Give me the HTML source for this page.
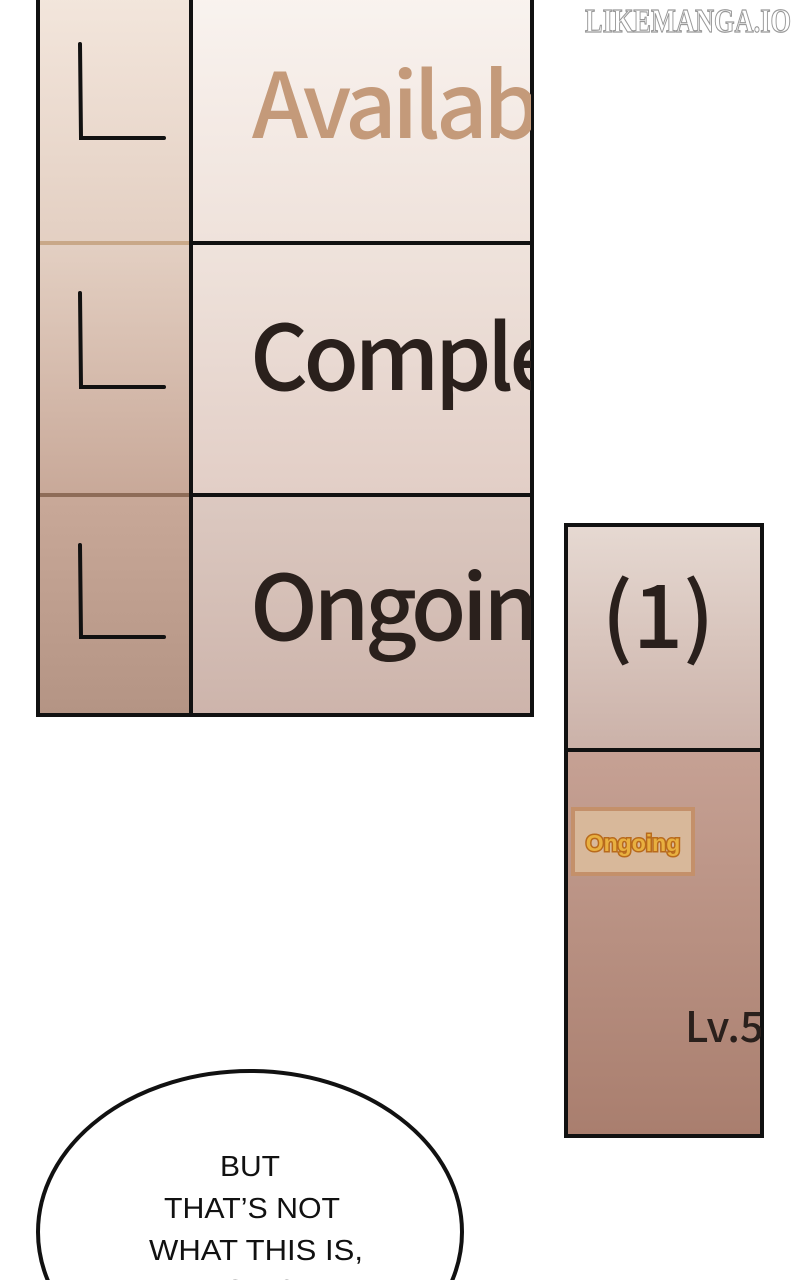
<!DOCTYPE html>
<html><head><meta charset="utf-8"><style>
html,body{margin:0;padding:0;background:#fff;width:800px;height:1280px;overflow:hidden}
svg{display:block}
</style></head><body>
<svg width="800" height="1280" viewBox="0 0 800 1280" xmlns="http://www.w3.org/2000/svg">
<defs>
<linearGradient id="lc" x1="0" y1="0" x2="0" y2="1">
<stop offset="0" stop-color="#f3e6dc"/><stop offset="0.35" stop-color="#e3cfc2"/><stop offset="0.7" stop-color="#c8a898"/><stop offset="1" stop-color="#b49484"/></linearGradient>
<linearGradient id="r1" x1="0" y1="0" x2="0" y2="1"><stop offset="0" stop-color="#f9f3ef"/><stop offset="1" stop-color="#efe2db"/></linearGradient>
<linearGradient id="r2" x1="0" y1="0" x2="0" y2="1"><stop offset="0" stop-color="#efe3dc"/><stop offset="1" stop-color="#e2cec6"/></linearGradient>
<linearGradient id="r3" x1="0" y1="0" x2="0" y2="1"><stop offset="0" stop-color="#dcc9c1"/><stop offset="1" stop-color="#cdb4ab"/></linearGradient>
<linearGradient id="p1" x1="0" y1="0" x2="0" y2="1"><stop offset="0" stop-color="#e6d9d2"/><stop offset="1" stop-color="#cbb1a8"/></linearGradient>
<linearGradient id="p2" x1="0" y1="0" x2="0" y2="1"><stop offset="0" stop-color="#c6a194"/><stop offset="1" stop-color="#a97e6e"/></linearGradient>
<clipPath id="cl"><rect x="193" y="0" width="338" height="715"/></clipPath>
<clipPath id="cr"><rect x="567" y="752" width="194" height="383"/></clipPath>
<clipPath id="cv"><rect x="0" y="0" width="800" height="1280"/></clipPath>
</defs>
<rect x="38" y="-5" width="153" height="720" fill="url(#lc)"/>
<rect x="191" y="-5" width="341" height="248" fill="url(#r1)"/>
<rect x="191" y="243" width="341" height="252" fill="url(#r2)"/>
<rect x="191" y="495" width="341" height="220" fill="url(#r3)"/>
<line x1="38" y1="243" x2="190" y2="243" stroke="#c9a888" stroke-width="4"/>
<line x1="38" y1="495" x2="190" y2="495" stroke="#8e6c58" stroke-width="4"/>
<line x1="191" y1="243" x2="532" y2="243" stroke="#111" stroke-width="4"/>
<line x1="191" y1="495" x2="532" y2="495" stroke="#111" stroke-width="4"/>
<line x1="191" y1="-5" x2="191" y2="715" stroke="#111" stroke-width="4"/>
<rect x="38" y="-10" width="494" height="725" fill="none" stroke="#111" stroke-width="4"/>
<g stroke="#111" stroke-width="4" fill="none" stroke-linecap="round">
<path d="M80 44 L81 138 L164 138"/><path d="M80 293 L81 387 L164 387"/><path d="M80 545 L81 637 L164 637"/>
</g>
<g clip-path="url(#cl)" font-family="Noto Sans CJK JP, Liberation Sans, sans-serif" font-weight="500" font-size="90" letter-spacing="-4.5">
<text x="252" y="138" fill="#c49a7a">Availab</text>
<text x="250" y="390" fill="#2a201c">Comple</text>
<text x="250" y="640" fill="#2a201c">Ongoin</text>
</g>
<rect x="566" y="525" width="196" height="225" fill="url(#p1)"/>
<rect x="566" y="750" width="196" height="386" fill="url(#p2)"/>
<line x1="566" y1="750" x2="762" y2="750" stroke="#111" stroke-width="4"/>
<rect x="566" y="525" width="196" height="611" fill="none" stroke="#111" stroke-width="4"/>
<text x="658" y="648" font-family="Noto Sans CJK JP, Liberation Sans, sans-serif" font-weight="500" font-size="88" fill="#2a201c" text-anchor="middle">(1)</text>
<rect x="573" y="809" width="120" height="65" fill="#d8b89a" stroke="#c4906a" stroke-width="4"/>
<text x="633" y="851" font-family="Liberation Sans, sans-serif" font-weight="bold" font-size="23" fill="#e8b040" stroke="#b86a1c" stroke-width="3" paint-order="stroke" text-anchor="middle">Ongoing</text>
<g clip-path="url(#cr)"><text x="685" y="1042" font-family="Noto Sans CJK JP, Liberation Sans, sans-serif" font-weight="500" font-size="42" fill="#2a201c">Lv.5</text></g>
<g clip-path="url(#cv)">
<ellipse cx="250" cy="1232" rx="212" ry="161" fill="#fff" stroke="#111" stroke-width="4"/>
<g font-family="Liberation Sans, sans-serif" font-size="29" fill="#111" text-anchor="middle">
<text x="250" y="1176" textLength="60" lengthAdjust="spacingAndGlyphs">BUT</text>
<text x="252" y="1218" textLength="176" lengthAdjust="spacingAndGlyphs">THAT’S NOT</text>
<text x="256" y="1260" textLength="214" lengthAdjust="spacingAndGlyphs">WHAT THIS IS,</text>
<text x="256" y="1300">IS IT?</text>
</g>
</g>
<text x="688" y="32" font-family="Liberation Serif, serif" font-weight="bold" font-size="34" fill="#fff" stroke="#999" stroke-width="1.2" text-anchor="middle" textLength="206" lengthAdjust="spacingAndGlyphs">LIKEMANGA.IO</text>
</svg>
</body></html>
